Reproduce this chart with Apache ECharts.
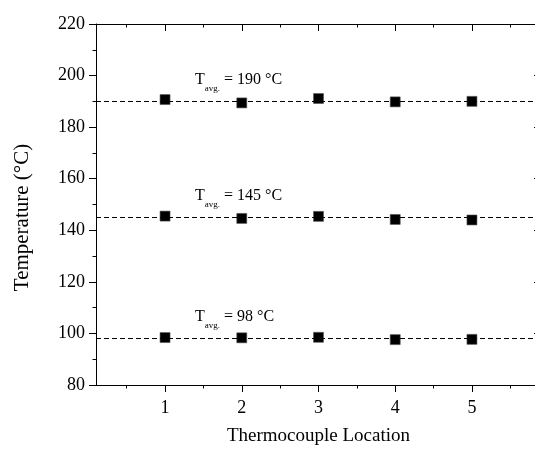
<!DOCTYPE html>
<html>
<head>
<meta charset="utf-8">
<script src="https://cdn.jsdelivr.net/npm/echarts@6/dist/echarts.min.js"></script>
<style>
  html, body { margin: 0; padding: 0; background: #fff; }
  #chart { width: 535px; height: 451px; }
</style>
</head>
<body>
<div id="chart"></div>
<script>
// data
const locations = [1, 2, 3, 4, 5];
const halfSteps = [0.5, 1.5, 2.5, 3.5, 4.5, 5.5];
const temps190 = [190.7, 189.4, 191.1, 189.8, 190.0];
const temps145 = [145.5, 144.6, 145.4, 144.2, 144.0];
const temps98 = [98.4, 98.3, 98.5, 97.6, 97.7];
const averages = [190, 145, 98];
const avgTexts = ['190 °C', '145 °C', '98 °C'];

const font = 'Liberation Serif';
const black = '#000';
const chart = echarts.init(document.getElementById('chart'));

const gridBox = { left: 96, right: -6, top: 24, bottom: 66, outerBoundsMode: 'none' };

function pointSeries(vals, avg) {
  return {
    type: 'scatter',
    xAxisIndex: 0,
    yAxisIndex: 0,
    symbol: 'rect',
    symbolSize: 10,
    itemStyle: { color: '#000', opacity: 1, borderColor: '#555', borderWidth: 0.6 },
    data: locations.map((x, i) => [x, vals[i]]),
    z: 3,
    markLine: {
      silent: true,
      symbol: 'none',
      label: { show: false },
      lineStyle: { type: [5, 3], color: black, width: 1, opacity: 1 },
      data: [{ yAxis: avg }]
    }
  };
}

// annotation labels "T_avg. = ..." placed just above each average line
const labelSeries = {
  type: 'scatter',
  xAxisIndex: 0,
  yAxisIndex: 0,
  symbolSize: 0,
  silent: true,
  itemStyle: { opacity: 1 },
  data: averages.map((a, i) => ({ value: [1.39, a + 8.3], text: avgTexts[i] })),
  label: {
    show: true,
    position: 'right',
    distance: 0,
    color: black,
    formatter: p => '{t|T}{s|avg.}{t| = ' + p.data.text + '}',
    rich: {
      t: { fontFamily: font, fontSize: 16, lineHeight: 16, color: black, verticalAlign: 'top' },
      s: { fontFamily: font, fontSize: 9, lineHeight: 9, color: black, verticalAlign: 'top', padding: [12, 0, 0, 0] }
    }
  }
};

const axisLine = { show: true, lineStyle: { color: black, width: 1 } };

chart.setOption({
  animation: false,
  grid: [Object.assign({}, gridBox), Object.assign({}, gridBox)],
  xAxis: [
    {
      type: 'value', gridIndex: 0, position: 'bottom', min: 0.1, max: 5.9,
      axisLine: axisLine,
      axisTick: { show: true, customValues: locations, length: 7, lineStyle: { color: black } },
      axisLabel: { customValues: locations, margin: 14, fontFamily: font, fontSize: 18, color: black },
      splitLine: { show: false },
      name: 'Thermocouple Location', nameLocation: 'middle', nameGap: 42,
      nameTextStyle: { fontFamily: font, fontSize: 19, color: black }
    },
    {
      type: 'value', gridIndex: 0, position: 'top', min: 0.1, max: 5.9,
      axisLine: axisLine,
      axisTick: { show: true, inside: true, customValues: locations, length: 7, lineStyle: { color: black } },
      axisLabel: { show: false },
      splitLine: { show: false }
    },
    {
      type: 'value', gridIndex: 1, position: 'bottom', min: 0.1, max: 5.9,
      axisLine: { show: false },
      axisTick: { show: true, customValues: halfSteps, length: 3.5, lineStyle: { color: black } },
      axisLabel: { show: false },
      splitLine: { show: false }
    },
    {
      type: 'value', gridIndex: 1, position: 'top', min: 0.1, max: 5.9,
      axisLine: { show: false },
      axisTick: { show: true, inside: true, customValues: halfSteps, length: 3.5, lineStyle: { color: black } },
      axisLabel: { show: false },
      splitLine: { show: false }
    }
  ],
  yAxis: [
    {
      type: 'value', gridIndex: 0, position: 'left', min: 80, max: 220, interval: 20,
      axisLine: axisLine,
      axisTick: { show: true, length: 7, lineStyle: { color: black } },
      minorTick: { show: true, splitNumber: 2, length: 3.5, lineStyle: { color: black } },
      axisLabel: { margin: 11, fontFamily: font, fontSize: 18, color: black },
      splitLine: { show: false },
      name: 'Temperature (°C)', nameLocation: 'middle', nameGap: 63,
      nameTextStyle: { fontFamily: font, fontSize: 21, color: black, padding: [0, 26, 0, 0] }
    },
    {
      type: 'value', gridIndex: 0, position: 'right', min: 80, max: 220, interval: 20,
      axisLine: axisLine,
      axisTick: { show: true, inside: true, length: 7, lineStyle: { color: black } },
      minorTick: { show: true, splitNumber: 2, length: 3.5, lineStyle: { color: black } },
      axisLabel: { show: false },
      splitLine: { show: false }
    },
    {
      type: 'value', gridIndex: 1, min: 80, max: 220, interval: 20, show: false
    }
  ],
  series: [
    pointSeries(temps190, averages[0]),
    pointSeries(temps145, averages[1]),
    pointSeries(temps98, averages[2]),
    labelSeries
  ]
});
</script>
</body>
</html>
